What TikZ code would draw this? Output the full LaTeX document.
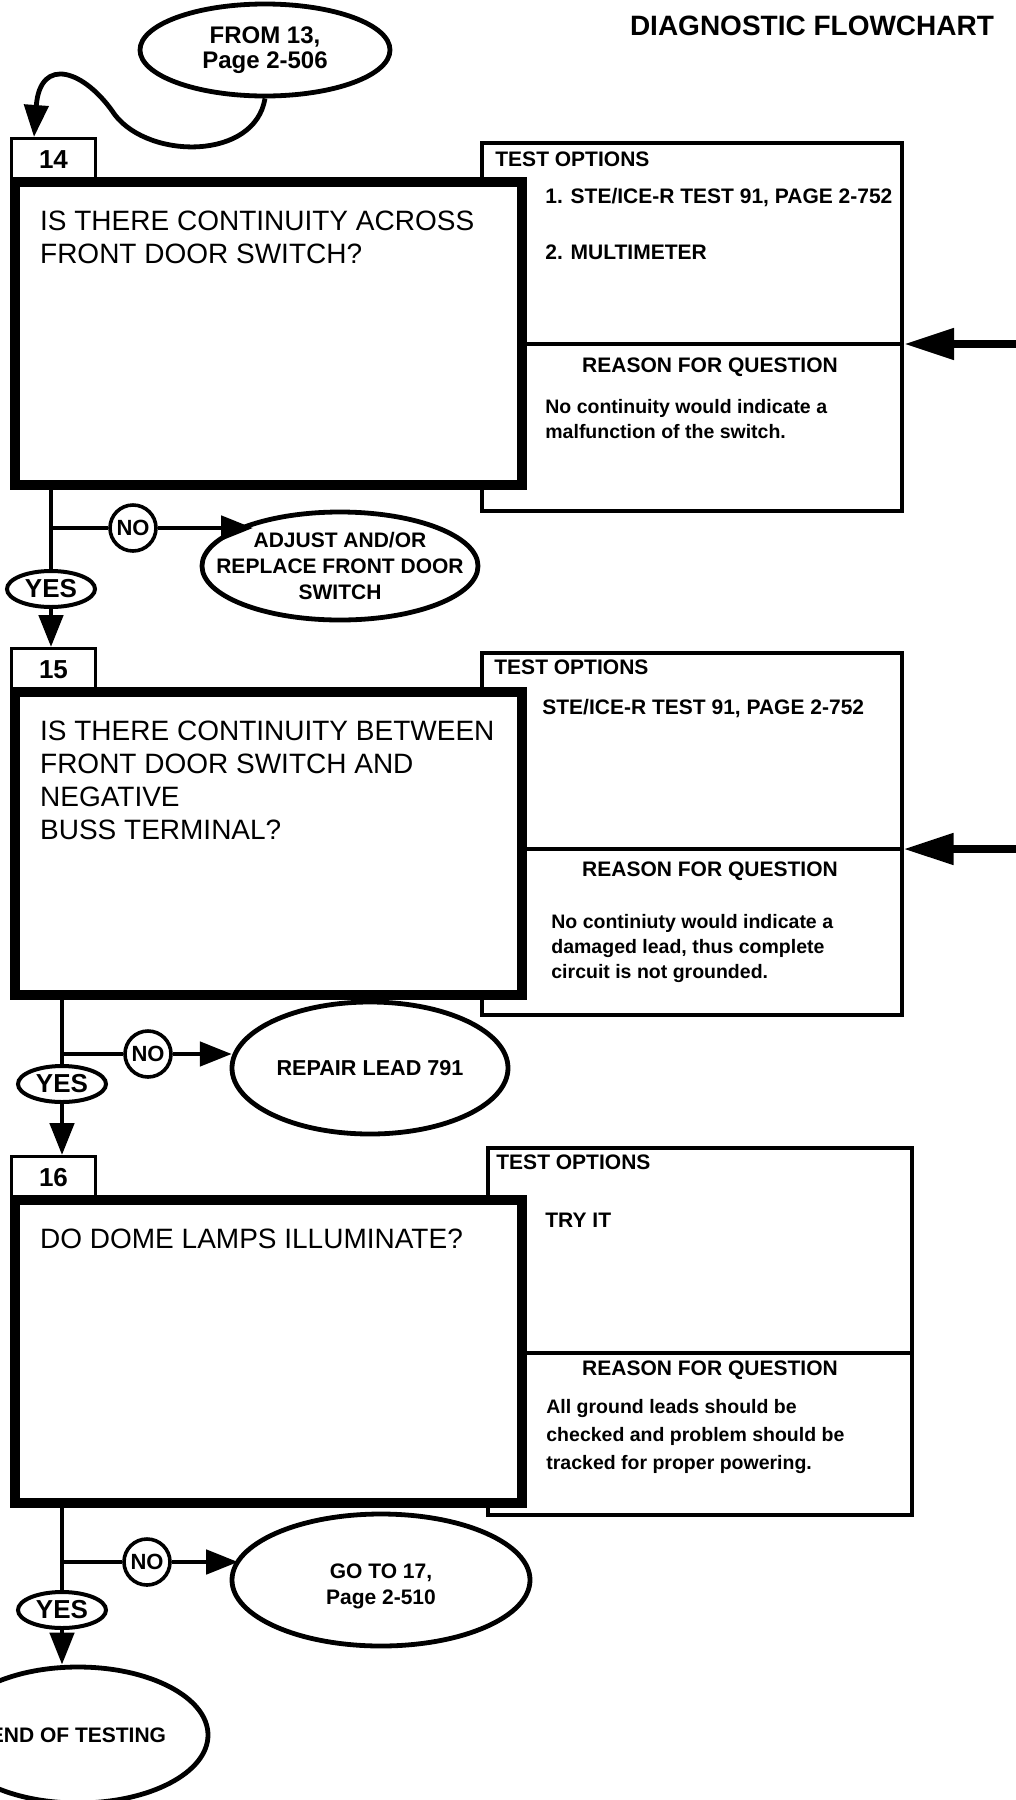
\documentclass[tikz,border=0pt]{standalone}
\usepackage{fontspec}
\setmainfont{Liberation Sans}
\usetikzlibrary{arrows.meta,positioning,shapes.geometric}

\begin{document}
\begin{tikzpicture}[x=0.5pt,y=-0.5pt,
  qbox/.style={draw,line width=5.25pt,fill=white,minimum width=253.5pt,minimum height=151.5pt,inner sep=0pt},
  numtab/.style={draw,line width=1.5pt,fill=white,minimum width=42pt,minimum height=21pt,inner sep=0pt,anchor=south west,font=\bfseries\fontsize{13}{15}\selectfont},
  qtext/.style={anchor=north west,inner sep=0pt,align=left,font=\fontsize{14}{16.5}\selectfont},
  optbox/.style={draw,line width=2pt,minimum width=210pt,inner sep=0pt},
  optext/.style={anchor=west,inner sep=0pt,font=\bfseries\fontsize{10.5}{12}\selectfont},
  why/.style={anchor=north west,inner sep=0pt,align=left,font=\bfseries\fontsize{9.75}{12.5}\selectfont},
  oval/.style={ellipse,draw,line width=2.4pt,fill=white,inner sep=0pt,align=center,font=\bfseries\fontsize{10.5}{12.5}\selectfont},
  ovaltext/.style={inner sep=0pt,align=center,font=\bfseries\fontsize{10.5}{13}\selectfont},
  yesoval/.style={ellipse,draw,line width=2pt,fill=white,minimum width=44pt,minimum height=18pt,inner sep=0pt,font=\bfseries\fontsize{13}{15}\selectfont},
  nocirc/.style={circle,draw,line width=1.8pt,fill=white,minimum size=23pt,inner sep=0pt,font=\bfseries\fontsize{11}{12}\selectfont},
  link/.style={line width=2.4pt},
  flow/.style={link,-{Triangle[length=16pt,width=12pt]}},
  bigarrow/.style={line width=4pt,-{Triangle[length=25pt,width=15pt]}}]
\useasboundingbox (0,0) rectangle (1016,1800);

\node[font=\bfseries\fontsize{14}{16}\selectfont] (title) at (812,26) {DIAGNOSTIC FLOWCHART};

% test options / reason boxes
\node[optbox,minimum height=184pt] (opt14) at (692,327) {};
\node[optbox,minimum height=181pt] (opt15) at (691.5,834) {};
\node[optbox,minimum height=183.5pt,minimum width=212pt] (opt16) at (700,1331.5) {};

\node[optext] (h14) at (495,159) {TEST OPTIONS};
\node[optext] (o14a) at (545,198) {1. STE/ICE-R TEST 91, PAGE 2-752};
\node[optext] (o14b) at (545,252) {2. MULTIMETER};
\node[optext,anchor=center] (r14) at (710,367) {REASON FOR QUESTION};
\node[why] (w14) at (545,399) {No continuity would indicate a\\malfunction of the switch.};

\node[optext] (h15) at (494,667) {TEST OPTIONS};
\node[optext] (o15) at (542,709) {STE/ICE-R TEST 91, PAGE 2-752};
\node[optext,anchor=center] (r15) at (710,871) {REASON FOR QUESTION};
\node[why] (w15) at (551,914) {No continiuty would indicate a\\damaged lead, thus complete\\circuit is not grounded.};

\node[optext] (h16) at (496,1162) {TEST OPTIONS};
\node[optext] (o16) at (545,1220) {TRY IT};
\node[optext,anchor=center] (r16) at (710,1370) {REASON FOR QUESTION};
\node[why,font=\bfseries\fontsize{9.75}{14}\selectfont] (w16) at (546,1399) {All ground leads should be\\checked and problem should be\\tracked for proper powering.};

% question boxes
\foreach \n/\y in {14/333.5,15/843.5,16/1351.5}{
  \node[numtab] (t\n) at (10,\y-151.5) {\n};
  \node[qbox] (q\n) at (268.5,\y) {};
}
\node[qtext] (q14t) at ([xshift=15pt,yshift=-17pt]q14.north west) {IS THERE CONTINUITY ACROSS\\FRONT DOOR SWITCH?};
\node[qtext] (q15t) at ([xshift=15pt,yshift=-17pt]q15.north west) {IS THERE CONTINUITY BETWEEN\\FRONT DOOR SWITCH AND\\NEGATIVE\\BUSS TERMINAL?};
\node[qtext] (q16t) at ([xshift=15pt,yshift=-17pt]q16.north west) {DO DOME LAMPS ILLUMINATE?};

\foreach \n/\y in {14/344,15/849,16/1353}{
  \coordinate (d\n) at (opt\n.east |- 0,\y);
  \draw[line width=2pt] (q\n.east |- d\n) -- (d\n);
}
\coordinate (in14) at (1030,344);
\coordinate (in15) at (1030,849);
\foreach \n in {14,15}{\draw[bigarrow] (in\n) -- (d\n);}

% ovals and answers
\node[oval,minimum width=125pt,minimum height=46pt,font=\bfseries\fontsize{12}{12.5}\selectfont] (from13) at (265,50) {FROM 13,\\Page 2-506};
\node[oval,minimum width=138pt,minimum height=54pt] (adj14) at (340,566) {};
\node[ovaltext] (adj14t) at (adj14) {ADJUST AND/OR\\REPLACE FRONT DOOR\\SWITCH};
\node[oval,minimum width=138pt,minimum height=66pt,font=\bfseries\fontsize{10.8}{12.5}\selectfont] (rep15) at (370,1068) {REPAIR LEAD 791};
\node[oval,minimum width=149pt,minimum height=66pt] (go17) at (381,1580) {};
\node[ovaltext,font=\bfseries\fontsize{10.5}{13}\selectfont] (go17t) at ([yshift=-3pt]go17) {GO TO 17,\\Page 2-510};
\node[oval,minimum width=130pt,minimum height=68pt] (end) at (78,1735) {END OF TESTING};

\node[yesoval] (yes14) at (51,589) {YES};
\node[nocirc] (no14) at (133,528) {NO};
\node[yesoval] (yes15) at (62,1084) {YES};
\node[nocirc] (no15) at (148,1054) {NO};
\node[yesoval] (yes16) at (62,1610) {YES};
\node[nocirc] (no16) at (147,1562) {NO};

% connectors
\draw[flow] (from13.south) .. controls (255,160) and (150,160) .. (115,115) .. controls (85,70) and (40,55) .. ([xshift=12pt]t14.north west);

\draw[link] (q14.south -| yes14) -- (yes14);
\draw[link] (no14.west -| yes14) -- (no14);
\draw[flow] (no14) -- (no14 -| adj14.153);
\draw[flow] (yes14) -- (yes14 |- t15.north);

\draw[link] (q15.south -| yes15) -- (yes15);
\draw[link] (no15.west -| yes15) -- (no15);
\draw[flow] (no15) -- (no15 -| rep15.175);
\draw[flow] (yes15) -- (yes15 |- t16.north);

\draw[link] (q16.south -| yes16) -- (yes16);
\draw[link] (no16.west -| yes16) -- (no16);
\draw[flow] (no16) -- (no16 -| go17.171);
\draw[flow] (yes16) -- (yes16 |- end.north);
\end{tikzpicture}
\end{document}
